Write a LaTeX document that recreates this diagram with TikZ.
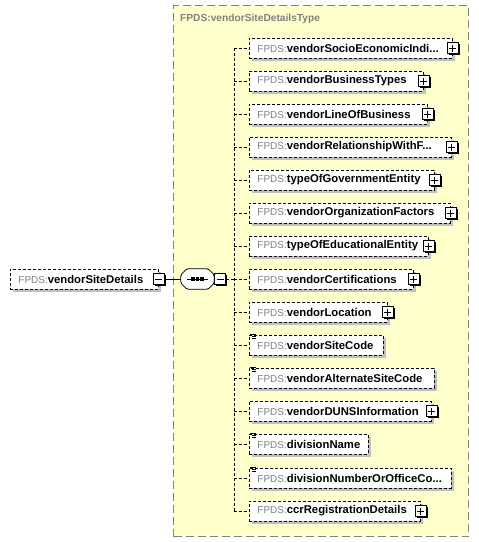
\documentclass[tikz,border=0pt]{standalone}
\usepackage{fontspec}
\setmainfont{Liberation Sans}
\usetikzlibrary{shadows}
\definecolor{bgyellow}{HTML}{FFFFCC}
\definecolor{fpgray}{HTML}{7A818A}
\definecolor{shadowgray}{HTML}{C0C0C0}
\definecolor{bordergray}{HTML}{808080}
\newcommand\el[1]{\mbox{\textcolor{fpgray}{\fontsize{10}{12}\selectfont FPDS:}{\fontsize{11.3}{13}\selectfont\bfseries #1}}}
\newcommand\octpath{([xshift=6pt]seq.north west) -- ([xshift=-6pt]seq.north east) -- ([yshift=-6pt]seq.east |- seq.north)
  -- ([yshift=6pt]seq.east |- seq.south) -- ([xshift=-6pt]seq.south east) -- ([xshift=6pt]seq.south west)
  -- ([yshift=6pt]seq.west |- seq.south) -- ([yshift=-6pt]seq.west |- seq.north) -- cycle}
\tikzset{
  elem/.style={draw=black, dash pattern=on 3pt off 2pt, line width=0.8pt, fill=white,
    minimum height=20pt, inner xsep=8pt, inner ysep=0pt, anchor=west, align=left,
    drop shadow={shadow xshift=3pt, shadow yshift=-3pt, fill=shadowgray, opacity=1}},
  conn/.style={draw=black, dash pattern=on 3pt off 2pt, line width=0.8pt},
  iconbox/.style={draw=black, line width=0.8pt, fill=white, minimum size=11pt, inner sep=0pt,
    drop shadow={shadow xshift=1.2pt, shadow yshift=-1.2pt, fill=black, opacity=1}},
  plusicon/.style={iconbox, path picture={
    \draw[line width=0.9pt] ([xshift=-3.5pt]path picture bounding box.center) -- ++(7pt,0pt);
    \draw[line width=0.9pt] ([yshift=-3.5pt]path picture bounding box.center) -- ++(0pt,7pt);}},
  minusicon/.style={iconbox, path picture={
    \draw[line width=0.9pt] ([xshift=-3.5pt]path picture bounding box.center) -- ++(7pt,0pt);}},
}
\newcommand\simpleicon[1]{%
  \draw[line width=0.7pt] ([xshift=1pt,yshift=0pt]#1.north west) -- ++(6pt,0pt);
  \draw[line width=0.7pt] ([xshift=2.5pt,yshift=-2pt]#1.north west) -- ++(4.5pt,0pt);
  \draw[line width=0.7pt] ([xshift=2.5pt,yshift=-4pt]#1.north west) -- ++(4.5pt,0pt);}
\begin{document}
\begin{tikzpicture}[x=1pt,y=-1pt]
\useasboundingbox (0,0) rectangle (479,542);
% frame
\node[draw=bordergray, fill=bgyellow, dash pattern=on 8pt off 4pt, line width=1pt,
  minimum width=295pt, minimum height=531pt, anchor=north west, inner sep=0pt] (frame) at (173,5) {};
\node[anchor=west, inner sep=0pt, text=bordergray, font=\fontsize{10.2}{12}\selectfont\bfseries] (title) at (180,19) {FPDS:vendorSiteDetailsType};
% root
\node[elem, text width=132pt] (root) at (10,279) {\el{vendorSiteDetails}};
\node[minusicon] (m1) at (root.east) {};
% sequence compositor
\node[minimum width=33pt, minimum height=20pt, inner sep=0pt] (seq) at (197.5,279) {};
\begin{scope}[shift={(3pt,-3pt)}]
\fill[shadowgray, rounded corners=1.5pt] \octpath;
\end{scope}
\filldraw[fill=white, draw=black, line width=0.8pt, rounded corners=1.5pt] \octpath;
\draw[line width=0.8pt] ([xshift=-10.5pt]seq.center) -- ([xshift=10.5pt]seq.center);
\foreach \dx in {-4.5,0,4.5} \fill ([xshift=\dx pt]seq.center) ++(-1.6pt,-1.6pt) rectangle ++(3.2pt,3.2pt);
\node[minusicon] (m2) at ([xshift=6pt]seq.east) {};
\draw[line width=0.8pt] (m1.east) -- (seq.west);
% children
\node[elem, text width=187pt] (c1) at (249,48) {\el{vendorSocioEconomicIndi...}};
\node[elem, text width=158pt] (c2) at (249,81) {\el{vendorBusinessTypes}};
\node[elem, text width=162pt] (c3) at (249,114) {\el{vendorLineOfBusiness}};
\node[elem, text width=186pt] (c4) at (249,147) {\el{vendorRelationshipWithF...}};
\node[elem, text width=169pt] (c5) at (249,180) {\el{typeOfGovernmentEntity}};
\node[elem, text width=185pt] (c6) at (249,213) {\el{vendorOrganizationFactors}};
\node[elem, text width=163pt] (c7) at (249,246) {\el{typeOfEducationalEntity}};
\node[elem, text width=148pt] (c8) at (249,279) {\el{vendorCertifications}};
\node[elem, text width=122pt] (c9) at (249,312) {\el{vendorLocation}};
\node[elem, text width=118pt] (c10) at (249,345) {\el{vendorSiteCode}};
\node[elem, text width=169pt] (c11) at (249,378) {\el{vendorAlternateSiteCode}};
\node[elem, text width=166pt] (c12) at (249,411) {\el{vendorDUNSInformation}};
\node[elem, text width=103pt] (c13) at (249,444) {\el{divisionName}};
\node[elem, text width=186pt] (c14) at (249,478) {\el{divisionNumberOrOfficeCo...}};
\node[elem, text width=155pt] (c15) at (249,511) {\el{ccrRegistrationDetails}};
\foreach \i in {1,2,3,4,5,6,7,8,9,12,15} \node[plusicon] (p\i) at (c\i.east) {};
\simpleicon{c10}
\simpleicon{c11}
\simpleicon{c13}
\simpleicon{c14}
% connectors
\coordinate (vtop) at (234,48);
\coordinate (vbot) at (234,511);
\draw[conn] (vtop) -- (vbot);
\foreach \i in {1,...,15} \draw[conn] (c\i.west -| vtop) -- (c\i.west);
\draw[conn] (m2.east) -- (m2.east -| vtop);
\end{tikzpicture}
\end{document}
